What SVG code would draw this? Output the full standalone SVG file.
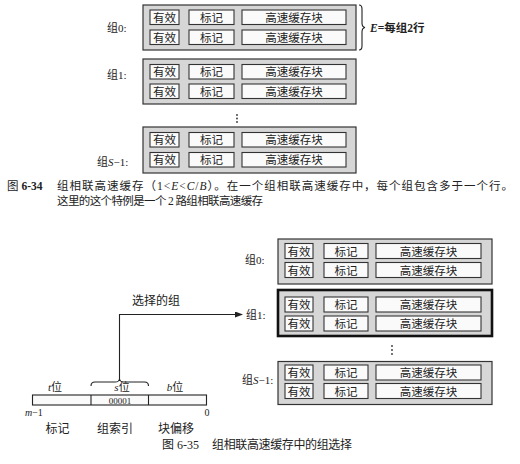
<svg xmlns="http://www.w3.org/2000/svg" width="520" height="464" viewBox="0 0 520 464">
<style>
text{font-family:"Liberation Serif","Noto Sans CJK SC",serif;fill:#222;}
.grp{fill:#d6d6d6;stroke:#333;stroke-width:1.2;}
.grpb{fill:#d6d6d6;stroke:#111;stroke-width:2.6;}
.cell{fill:#fafafa;stroke:#333;stroke-width:1.1;}
.ct{font-size:11.5px;text-anchor:middle;}
.lbl{font-size:11px;}
.cap{font-size:11.5px;}
.ln{fill:none;stroke:#222;stroke-width:1.1;}
.dot{fill:#333;}
</style>
<defs>
<marker id="arr" markerWidth="8" markerHeight="6" refX="7" refY="3" orient="auto" markerUnits="userSpaceOnUse">
<path d="M0,0 L8,3 L0,6 z" fill="#222"/>
</marker>
<g id="rowsTop">
<rect class="cell" x="150" y="0" width="29" height="14.5"/><text class="ct" x="164.5" y="11.5">有效</text>
<rect class="cell" x="189" y="0" width="45" height="14.5"/><text class="ct" x="211.5" y="11.5">标记</text>
<rect class="cell" x="242" y="0" width="104" height="14.5"/><text class="ct" x="294" y="11.5">高速缓存块</text>
</g>
<g id="rowsBot">
<rect class="cell" x="285" y="0" width="28" height="15"/><text class="ct" x="299" y="12">有效</text>
<rect class="cell" x="324" y="0" width="44" height="15"/><text class="ct" x="346" y="12">标记</text>
<rect class="cell" x="376" y="0" width="105" height="15"/><text class="ct" x="428.5" y="12">高速缓存块</text>
</g>
</defs>

<!-- Figure 6-34 -->
<g id="t-set0">
<rect class="grp" x="143" y="5" width="213" height="45"/>
<use href="#rowsTop" y="10"/><use href="#rowsTop" y="30"/>
<text class="lbl" x="107" y="32">组0:</text>
</g>
<g id="t-set1">
<rect class="grp" x="143" y="59" width="213" height="45"/>
<use href="#rowsTop" y="64.5"/><use href="#rowsTop" y="84"/>
<text class="lbl" x="107" y="79">组1:</text>
</g>
<g id="t-setS">
<rect class="grp" x="143" y="127" width="213" height="46"/>
<use href="#rowsTop" y="132.5"/><use href="#rowsTop" y="152.5"/>
<text class="lbl" x="97" y="166">组<tspan font-style="italic">S</tspan>−1:</text>
</g>
<g id="t-dots">
<circle class="dot" cx="237" cy="115" r="0.9"/><circle class="dot" cx="237" cy="118.5" r="0.9"/><circle class="dot" cx="237" cy="122" r="0.9"/>
</g>
<g id="t-brace">
<path class="ln" d="M359,5 q3,0 3,4 v14 q0,4 3,4.5 q-3,0.5 -3,4.5 v14 q0,4 -3,4"/>
<text x="370" y="31.5" font-size="11.5" font-weight="bold"><tspan font-style="italic">E</tspan>=每组2行</text>
</g>
<g id="cap34">
<text class="cap" x="7" y="190">图 <tspan font-weight="bold">6-34</tspan></text>
<text class="cap" x="57" y="190" textLength="456" lengthAdjust="spacing">组相联高速缓存（1&lt;<tspan font-style="italic">E</tspan>&lt;<tspan font-style="italic">C</tspan>/<tspan font-style="italic">B</tspan>）。在一个组相联高速缓存中，每个组包含多于一个行。</text>
<text class="cap" x="57" y="205" textLength="206" lengthAdjust="spacing">这里的这个特例是一个 2 路组相联高速缓存</text>
</g>

<!-- Figure 6-35 -->
<g id="b-set0">
<rect class="grp" x="278" y="239" width="214" height="45"/>
<use href="#rowsBot" y="243.5"/><use href="#rowsBot" y="262.5"/>
<text class="lbl" x="245" y="264">组0:</text>
</g>
<g id="b-set1">
<rect class="grpb" x="278" y="290" width="214" height="46"/>
<use href="#rowsBot" y="297"/><use href="#rowsBot" y="316"/>
<text class="lbl" x="246" y="319">组1:</text>
</g>
<g id="b-dots">
<circle class="dot" cx="392" cy="346" r="0.9"/><circle class="dot" cx="392" cy="350" r="0.9"/><circle class="dot" cx="392" cy="354" r="0.9"/>
</g>
<g id="b-setS">
<rect class="grp" x="278" y="361.5" width="214" height="43"/>
<use href="#rowsBot" y="365"/><use href="#rowsBot" y="383.5"/>
<text class="lbl" x="242" y="384">组<tspan font-style="italic">S</tspan>−1:</text>
</g>
<g id="addr">
<rect x="32.5" y="395" width="174" height="10" fill="#fafafa" stroke="#222" stroke-width="1.1"/>
<line class="ln" x1="91" y1="395" x2="91" y2="405"/>
<line class="ln" x1="148.5" y1="395" x2="148.5" y2="405"/>
<text x="120" y="403.5" font-size="9" text-anchor="middle">00001</text>
<text x="55" y="391" font-size="11" text-anchor="middle"><tspan font-style="italic">t</tspan>位</text>
<text x="122" y="391" font-size="11" text-anchor="middle"><tspan font-style="italic">s</tspan>位</text>
<text x="175" y="391" font-size="11" text-anchor="middle"><tspan font-style="italic">b</tspan>位</text>
<text x="25" y="416" font-size="10"><tspan font-style="italic">m</tspan>−1</text>
<text x="207" y="416" font-size="10" text-anchor="middle">0</text>
<text x="57.5" y="433" font-size="12" text-anchor="middle">标记</text>
<text x="115" y="433" font-size="12" text-anchor="middle">组索引</text>
<text x="176" y="433" font-size="12" text-anchor="middle">块偏移</text>
<path class="ln" d="M91,386 q0,-4 4,-4 H115 q4,0 4.5,-3 q0.5,3 4.5,3 H144.5 q4,0 4,4"/>
<text x="156" y="305" font-size="12" text-anchor="middle">选择的组</text>
</g>
<g id="connectors">
<path class="ln" d="M119.5,379 V314.5 H242" marker-end="url(#arr)"/>
</g>
<g id="cap35">
<text x="162" y="449" font-size="12">图 6-35</text>
<text x="212" y="449" font-size="12" textLength="140" lengthAdjust="spacing">组相联高速缓存中的组选择</text>
</g>
</svg>
